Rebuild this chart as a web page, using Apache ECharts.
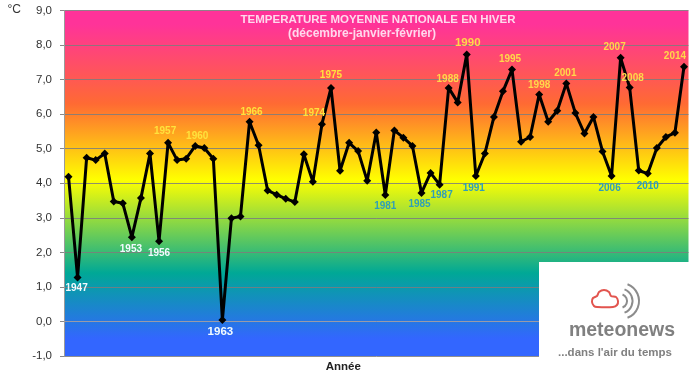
<!DOCTYPE html>
<html>
<head>
<meta charset="utf-8">
<style>html,body{margin:0;padding:0;background:#fff}#c{width:690px;height:375px}</style>
<script src="https://cdn.jsdelivr.net/npm/echarts@6/dist/echarts.min.js"></script>
</head>
<body>
<div id="c"></div>
<script>
const years = [];
for (let y = 1946; y <= 2014; y++) years.push(String(y));
const temperatures = [4.19,1.27,4.74,4.67,4.86,3.47,3.42,2.44,3.57,4.86,2.32,5.17,4.67,4.71,5.08,5.02,4.71,0.04,2.99,3.04,5.78,5.10,3.79,3.67,3.55,3.46,4.84,4.04,5.71,6.76,4.36,5.17,4.93,4.07,5.47,3.66,5.53,5.32,5.08,3.72,4.30,3.96,6.76,6.34,7.73,4.21,4.86,5.92,6.66,7.29,5.20,5.34,6.57,5.78,6.10,6.89,6.03,5.44,5.92,4.92,4.21,7.63,6.77,4.37,4.28,5.02,5.34,5.46,7.37];
const warmYears = ['1957','1960','1966','1974','1975','1988','1990','1995','1998','2001','2007','2008','2014'];
const coldYears = ['1947','1953','1956','1963'];
const coolYears = ['1981','1985','1987','1991','2006','2010'];
const titleText = 'TEMPERATURE MOYENNE NATIONALE EN HIVER';
const subtitleText = '(décembre-janvier-février)';

const labelOffsets = {
  1947:[-1,11],1953:[-1,12],1956:[0,12],1963:[-2,12],
  1957:[-3,-12],1960:[2,-10],1966:[2,-10],1974:[-8,-11],1975:[0,-13],
  1988:[-1,-9],1990:[1,-12],1995:[-2,-10],1998:[0,-9],2001:[-1,-10],
  2007:[-6,-11],2008:[3,-9],2014:[-9,-11],
  1981:[0,11],1985:[-2,11],1987:[2,11],1991:[-2,12],2006:[-2,12],2010:[0,13]
};
const bigYears = ['1963','1990'];

function labelFor(year){
  const off = labelOffsets[year];
  if (!off) return {show:false};
  const big = bigYears.includes(year);
  let color = '#FFE23C';
  if (coldYears.includes(year)) color = '#F2FBFF';
  if (coolYears.includes(year)) color = '#2F9FB8';
  if (warmYears.includes(year) && +year >= 1988) color = '#FFD84A';
  return {
    show:true, position:'inside', offset:off, formatter:year, color,
    fontFamily:'Liberation Sans', fontSize:big?11.5:10, fontWeight:'bold'
  };
}

const chart = echarts.init(document.getElementById('c'), null, {renderer:'canvas'});
chart.setOption({
  animation:false,
  title:[
    {text:titleText,left:373,top:9,textAlign:'center',textStyle:{color:'#FFD8EC',fontFamily:'Liberation Sans',fontSize:11.5,fontWeight:'bold'}},
    {text:subtitleText,left:357,top:23,textAlign:'center',textStyle:{color:'#FFD8EC',fontFamily:'Liberation Sans',fontSize:12,fontWeight:'bold'}}
  ],
  grid:{
    left:64,top:10.5,width:624.5,height:345.5,show:true,borderWidth:0,outerBoundsMode:'none',
    backgroundColor:new echarts.graphic.LinearGradient(0,0,0,1,[
      {offset:0.04,color:'#FF3399'},
      {offset:0.27,color:'#FF6A33'},
      {offset:0.49,color:'#FFFF00'},
      {offset:0.76,color:'#00A896'},
      {offset:0.95,color:'#3366FF'},
      {offset:1,color:'#3366FF'}
    ])
  },
  xAxis:{
    type:'category',data:years,boundaryGap:true,
    axisTick:{show:false},axisLabel:{show:false},
    axisLine:{show:true,lineStyle:{color:'#9a9aa8',width:1}},
    splitLine:{show:false},
    name:'Année',nameLocation:'middle',nameGap:5,
    nameTextStyle:{color:'#222',fontFamily:'Liberation Sans',fontSize:11.5,fontWeight:'bold',padding:[0,66,0,0]}
  },
  yAxis:{
    type:'value',min:-1,max:9,interval:1,
    axisLine:{show:true,lineStyle:{color:'#9a9a9a',width:1}},
    axisTick:{show:true,length:4,lineStyle:{color:'#888'}},
    axisLabel:{color:'#333',fontFamily:'Liberation Sans',fontSize:11.5,margin:12,formatter:v=>v.toFixed(1).replace('.',',')},
    splitLine:{show:true,lineStyle:{color:'rgba(125,125,125,0.85)',width:1}},
    name:'°C',nameLocation:'end',nameGap:-5,
    nameTextStyle:{color:'#333',fontFamily:'Liberation Sans',fontSize:12,align:'right',padding:[0,43,0,0]}
  },
  series:[{
    type:'line',
    data:temperatures.map((v,i)=>({value:v,label:labelFor(years[i])})),
    smooth:false,
    showSymbol:true,showAllSymbol:true,
    symbol:'diamond',symbolSize:8,
    lineStyle:{color:'#000',width:3},
    itemStyle:{color:'#000'},
    z:5
  }],
  graphic:[
    {type:'rect',z:50,shape:{x:539,y:262,width:151,height:113},style:{fill:'#fff'}},
    {type:'polygon',z:51,shape:{points:[[597,307],[613,307],[617,305],[618,301],[616,297],[611,296],[609,292],[604,290],[599,292],[597,296],[593,298],[592,302],[594,306]],smooth:0.25},
      style:{fill:'none',stroke:'#E2544E',lineWidth:2}},
    {type:'arc',z:51,shape:{cx:620,cy:301,r:7,startAngle:-1.2,endAngle:1.2},style:{fill:'none',stroke:'#8c8c8c',lineWidth:2}},
    {type:'arc',z:51,shape:{cx:620,cy:301,r:12.5,startAngle:-1.2,endAngle:1.2},style:{fill:'none',stroke:'#8c8c8c',lineWidth:2}},
    {type:'arc',z:51,shape:{cx:621,cy:301,r:18,startAngle:-1.2,endAngle:1.2},style:{fill:'none',stroke:'#8c8c8c',lineWidth:2}},
    {type:'text',z:51,style:{text:'meteonews',x:622,y:331,align:'center',verticalAlign:'middle',fill:'#808080',font:'bold 19.5px "Liberation Sans"'}},
    {type:'text',z:51,style:{text:'...dans l\'air du temps',x:615,y:353,align:'center',verticalAlign:'middle',fill:'#808080',font:'bold 11.5px "Liberation Sans"'}}
  ]
});
</script>
</body>
</html>
